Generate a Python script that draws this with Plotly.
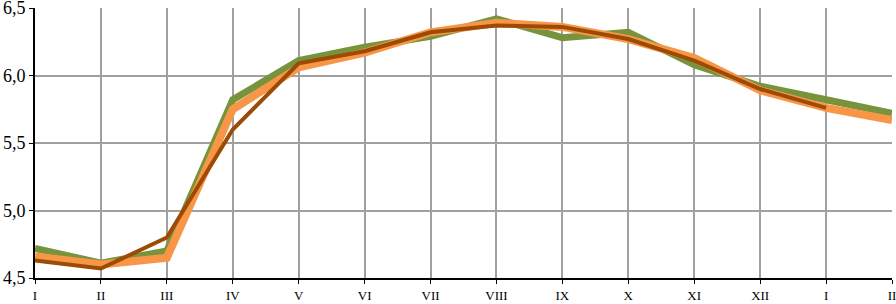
import plotly.graph_objects as go

months = ["I", "II", "III", "IV", "V", "VI", "VII", "VIII", "IX", "X", "XI", "XII", "I ", "II "]
green_vals = [4.72, 4.61, 4.70, 5.82, 6.11, 6.21, 6.29, 6.42, 6.28, 6.32, 6.08, 5.92, 5.82, 5.72]
orange_vals = [4.66, 4.60, 4.65, 5.75, 6.06, 6.17, 6.32, 6.39, 6.36, 6.27, 6.13, 5.89, 5.76, 5.67]
brown_vals = [4.63, 4.57, 4.80, 5.60, 6.09, 6.18, 6.32, 6.37, 6.36, 6.27, 6.11, 5.90, 5.76, None]
y_ticks = [4.5, 5.0, 5.5, 6.0, 6.5]

x = list(range(len(months)))

fig = go.Figure()
fig.add_trace(go.Scatter(x=x, y=green_vals, mode="lines",
                         line=dict(color="#77933C", width=7), showlegend=False))
fig.add_trace(go.Scatter(x=x, y=orange_vals, mode="lines",
                         line=dict(color="#F79646", width=8), showlegend=False))
fig.add_trace(go.Scatter(x=x, y=brown_vals, mode="lines",
                         line=dict(color="#9C4A06", width=4), showlegend=False,
                         connectgaps=False))

fig.update_layout(
    width=896, height=304,
    margin=dict(l=35, r=4, t=8, b=26, autoexpand=False),
    paper_bgcolor="white", plot_bgcolor="white",
    separators=", ",
    font=dict(family="Liberation Serif, Times New Roman, serif", color="black"),
)
fig.update_xaxes(
    range=[0, len(months) - 1], automargin=False,
    tickmode="array", tickvals=x, ticktext=[m.strip() for m in months],
    showgrid=True, gridcolor="#A0A0A0", gridwidth=1.5,
    showline=True, linecolor="black", linewidth=2,
    ticks="outside", ticklen=4, tickcolor="black", tickwidth=1,
    tickfont=dict(size=13), zeroline=False, ticklabeloverflow="allow",
)
fig.update_yaxes(
    range=[4.5, 6.5], automargin=False,
    tickmode="array", tickvals=y_ticks, tickformat=".1f",
    showgrid=True, gridcolor="#A0A0A0", gridwidth=1.5,
    showline=True, linecolor="black", linewidth=2,
    ticks="outside", ticklen=4, tickcolor="black", tickwidth=1,
    tickfont=dict(size=18), zeroline=False, ticklabeloverflow="allow",
)

fig.write_html("out.html", config={"displayModeBar": False},
               post_script="document.body.style.margin='0';")
